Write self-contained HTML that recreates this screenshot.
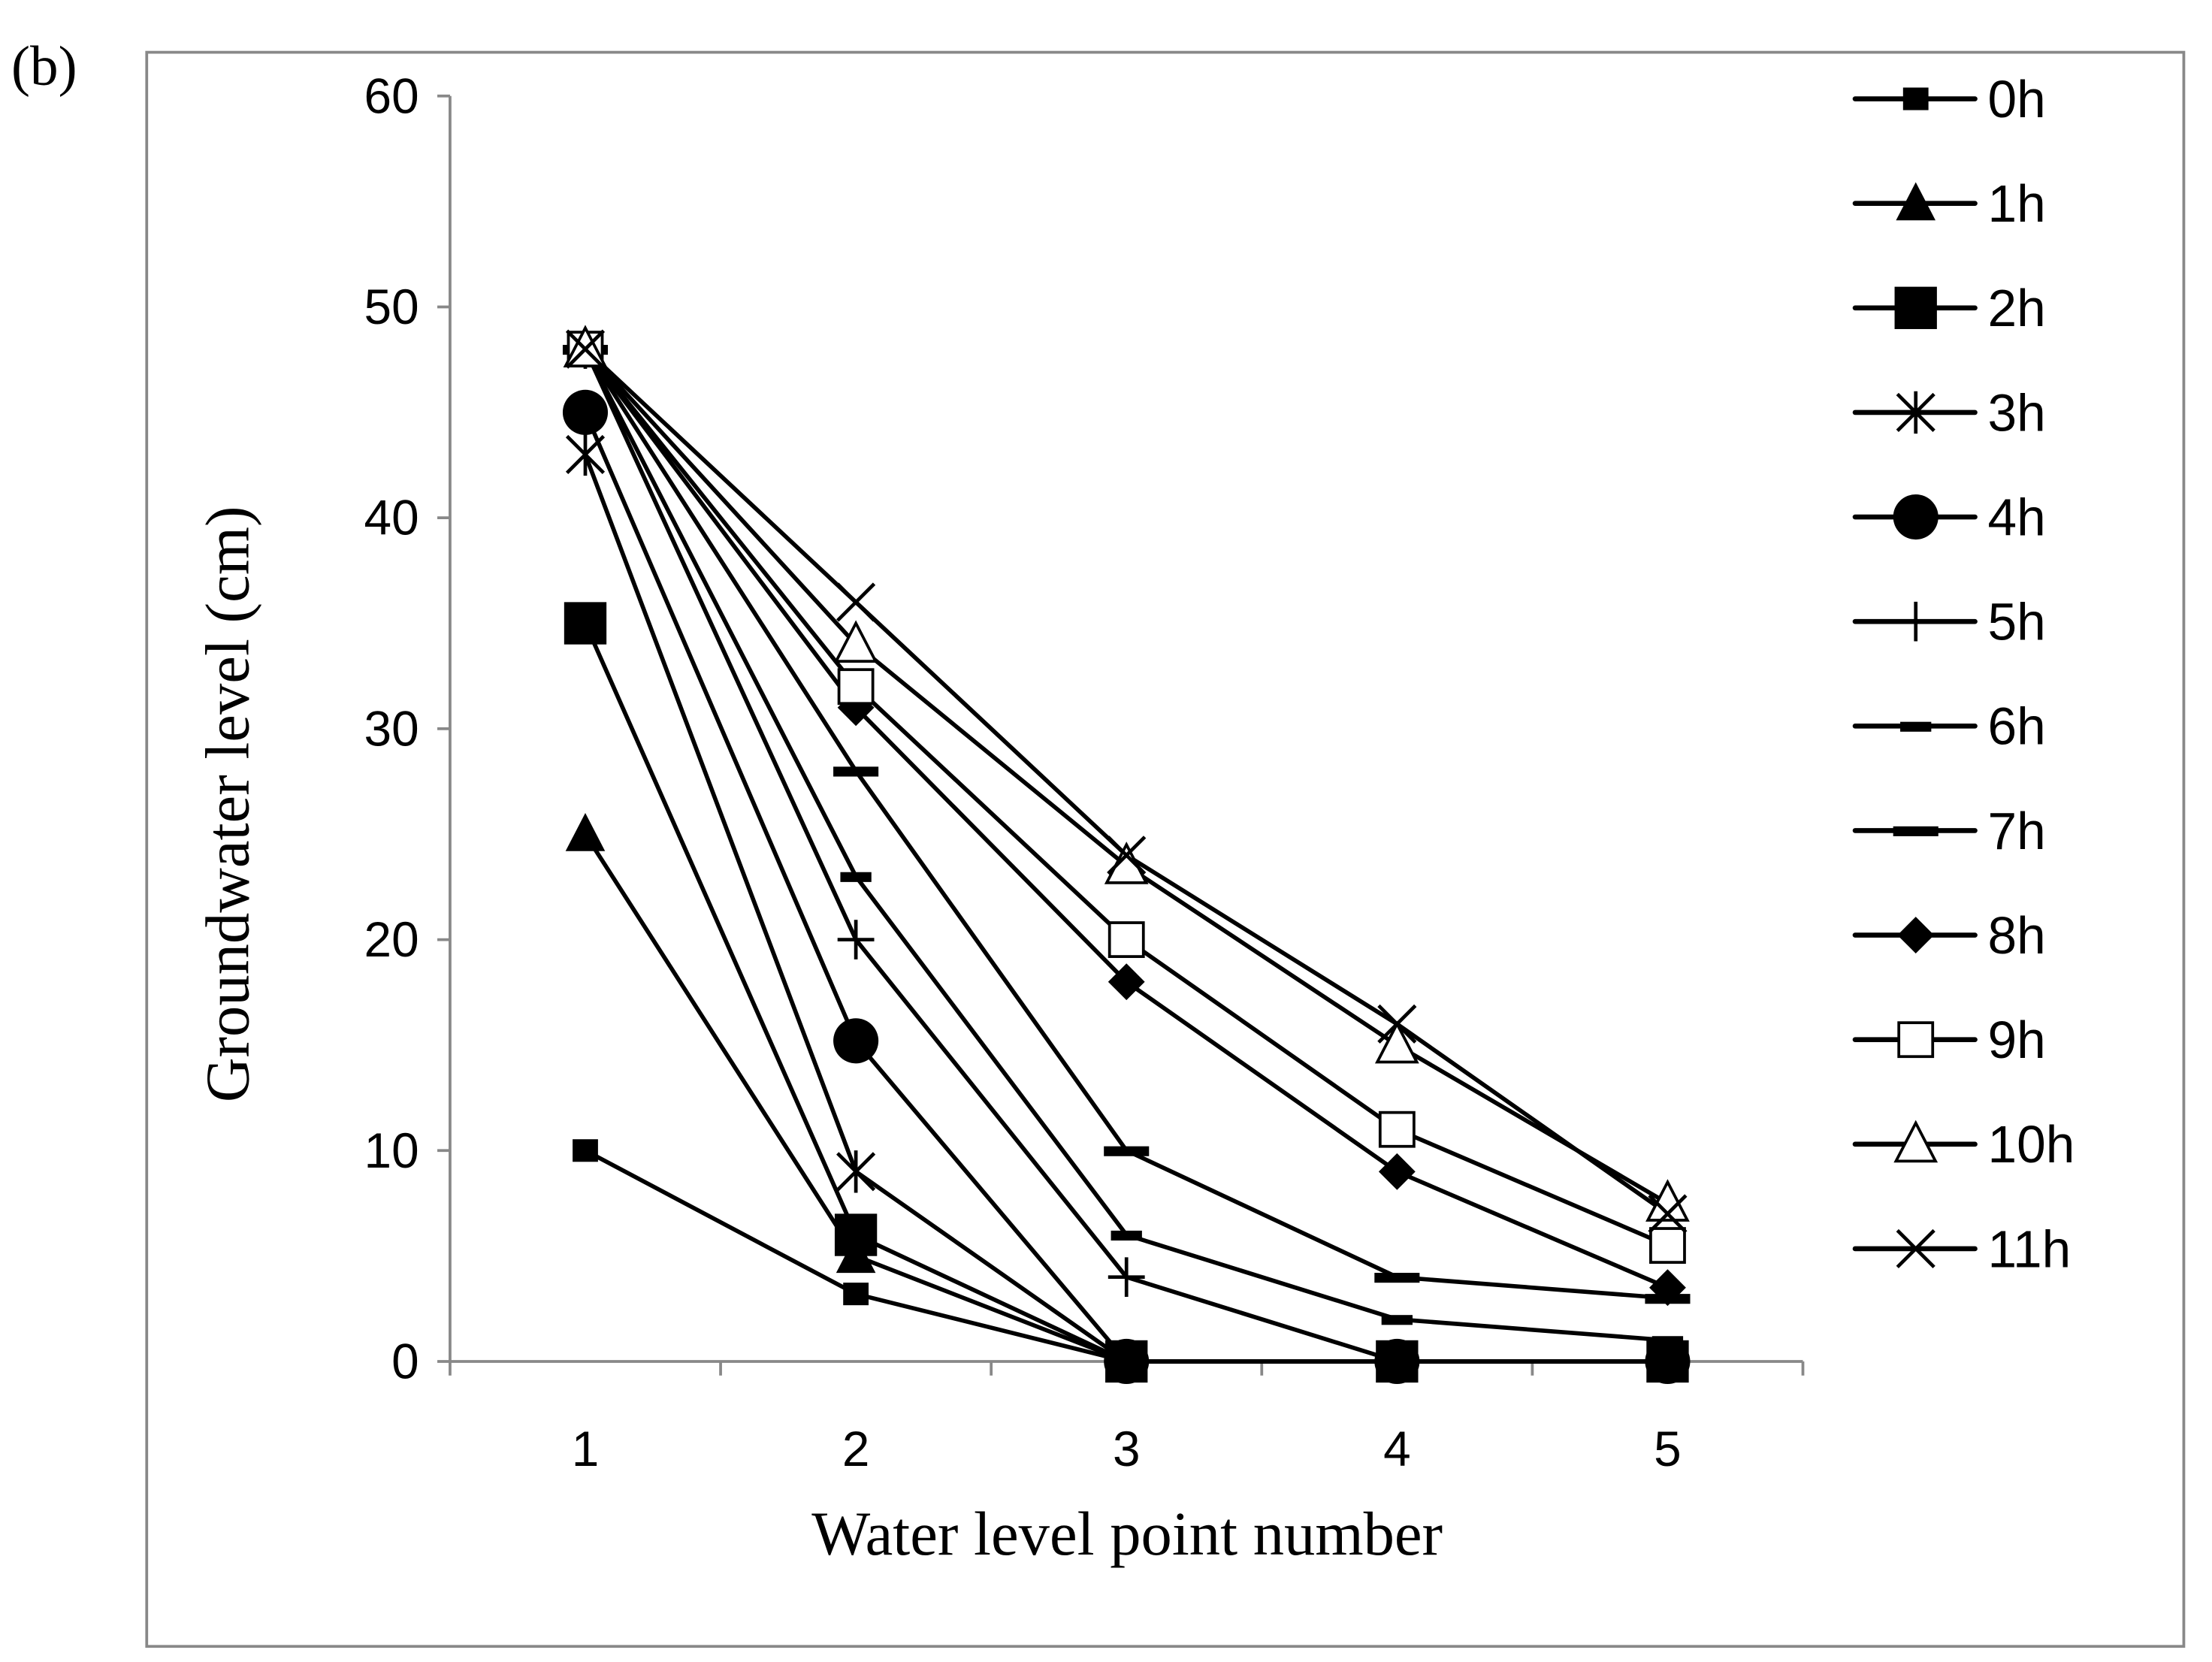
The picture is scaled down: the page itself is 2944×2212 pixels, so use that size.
<!DOCTYPE html>
<html><head><meta charset="utf-8"><style>
html,body{margin:0;padding:0;background:#fff}
svg{display:block}
</style></head><body>
<svg id="chart" width="2944" height="2212" viewBox="0 0 1568 1178" xmlns="http://www.w3.org/2000/svg">
<rect x="0" y="0" width="1568" height="1178" fill="#fff"/>
<text x="8" y="60" font-family="Liberation Serif, serif" font-size="40">(b)</text>
<rect x="104" y="37" width="1444" height="1130" fill="none" stroke="#888" stroke-width="2"/>
<g id="axes"></g>
<g id="series"></g>
<g id="legend"></g>
<text x="799" y="1102" text-anchor="middle" font-family="Liberation Serif, serif" font-size="44">Water level point number</text>
<text transform="translate(176,570) rotate(-90)" text-anchor="middle" font-family="Liberation Serif, serif" font-size="44">Groundwater level (cm)</text>
</svg>
<script>
const categories = [1, 2, 3, 4, 5];
const yTicks = [0, 10, 20, 30, 40, 50, 60];
const seriesNames = ['0h','1h','2h','3h','4h','5h','6h','7h','8h','9h','10h','11h'];
const s0h = [10, 3.2, 0, 0, 0];
const s1h = [25, 5, 0, 0, 0];
const s2h = [35, 6, 0, 0, 0];
const s3h = [43, 9, 0, 0, 0];
const s4h = [45, 15.2, 0, 0, 0];
const s5h = [48, 20, 4, 0, 0];
const s6h = [48, 23, 6, 2, 1];
const s7h = [48, 28, 10, 4, 3];
const s8h = [48, 31, 18, 9, 3.5];
const s9h = [48, 32, 20, 11, 5.5];
const s10h = [48, 34, 23.5, 15, 7.5];
const s11h = [48, 36, 24, 16, 7];
const seriesValues = [s0h,s1h,s2h,s3h,s4h,s5h,s6h,s7h,s8h,s9h,s10h,s11h];
const markers = ['sqS','tri','sqL','star','circ','plus','dashS','dashL','diam','sqO','triO','x'];

const NS='http://www.w3.org/2000/svg';
const X0=319,X1=1278,Y0=965,Y60=68;
const xScale=c=>X0+(c-0.5)*(X1-X0)/categories.length;
const yScale=v=>Y0-(v/60)*(Y0-Y60);
function mk(tag,attrs,parent){const e=document.createElementNS(NS,tag);for(const k in attrs)e.setAttribute(k,attrs[k]);parent.appendChild(e);return e;}
const axes=document.getElementById('axes');
const yAxis=mk('line',{x1:X0,y1:Y60,x2:X0,y2:Y0,stroke:'#888','stroke-width':2},axes);


const xAxis=mk('line',{x1:X0,y1:Y0,x2:X1,y2:Y0,stroke:'#888','stroke-width':2},axes);


yTicks.forEach(t=>{
  const y=yScale(t);
  mk('line',{x1:X0-9,y1:y,x2:X0,y2:y,stroke:'#888','stroke-width':2},axes);
  const tx=mk('text',{x:X0-22,y:y+12,'text-anchor':'end','font-family':'Liberation Sans, sans-serif','font-size':35},axes);
  tx.textContent=t;
  
  
});
for(let i=0;i<=categories.length;i++){
  const x=X0+i*(X1-X0)/categories.length;
  mk('line',{x1:x,y1:Y0,x2:x,y2:Y0+10,stroke:'#888','stroke-width':2},axes);
}
categories.forEach(c=>{
  const tx=mk('text',{x:xScale(c),y:Y0+74,'text-anchor':'middle','font-family':'Liberation Sans, sans-serif','font-size':35},axes);
  tx.textContent=c;
  
  
});
function marker(type,x,y,g){
  const f='#000';
  switch(type){
    case 'sqS': mk('rect',{x:x-9,y:y-8,width:18,height:16,fill:f},g);break;
    case 'sqL': mk('rect',{x:x-15,y:y-15,width:30,height:30,fill:f},g);break;
    case 'tri': mk('polygon',{points:`${x},${y-15} ${x+14},${y+12} ${x-14},${y+12}`,fill:f},g);break;
    case 'triO': mk('polygon',{points:`${x},${y-15} ${x+14},${y+12} ${x-14},${y+12}`,fill:'#fff',stroke:f,'stroke-width':2},g);break;
    case 'circ': mk('circle',{cx:x,cy:y,r:16,fill:f},g);break;
    case 'diam': mk('polygon',{points:`${x},${y-13} ${x+13},${y} ${x},${y+13} ${x-13},${y}`,fill:f},g);break;
    case 'sqO': mk('rect',{x:x-12,y:y-12,width:24,height:24,fill:'#fff',stroke:f,'stroke-width':2},g);break;
    case 'dashS': mk('rect',{x:x-11,y:y-3,width:22,height:7,fill:f},g);break;
    case 'dashL': mk('rect',{x:x-16,y:y-3,width:32,height:7,fill:f},g);break;
    case 'plus': mk('path',{d:`M${x-13},${y}H${x+13}M${x},${y-14}V${y+14}`,stroke:f,'stroke-width':2.5},g);break;
    case 'x': mk('path',{d:`M${x-13},${y-13}L${x+13},${y+13}M${x+13},${y-13}L${x-13},${y+13}`,stroke:f,'stroke-width':2.5},g);break;
    case 'star': mk('path',{d:`M${x-13},${y-13}L${x+13},${y+13}M${x+13},${y-13}L${x-13},${y+13}M${x},${y-15}V${y+15}`,stroke:f,'stroke-width':2.5},g);break;
  }
}
const sg=document.getElementById('series');
seriesValues.forEach((vals,i)=>{
  const g=mk('g',{},sg);
  
  
  const pts=vals.map((v,j)=>xScale(categories[j])+','+yScale(v)).join(' ');
  mk('polyline',{points:pts,fill:'none',stroke:'#000','stroke-width':3},g);
});
seriesValues.forEach((vals,i)=>{
  const g=mk('g',{},sg);
  
  
  vals.forEach((v,j)=>marker(markers[i],xScale(categories[j]),yScale(v),g));
});
const lg=document.getElementById('legend');
seriesNames.forEach((n,i)=>{
  const y=70+i*74.1;
  const g=mk('g',{},lg);
  
  
  mk('line',{x1:1315,y1:y,x2:1400,y2:y,stroke:'#000','stroke-width':3.5,'stroke-linecap':'round'},g);
  marker(markers[i],1358,y,g);
  const t=mk('text',{x:1409,y:y+13,'font-family':'Liberation Sans, sans-serif','font-size':37},g);
  t.textContent=n;
});
</script>
</body></html>
